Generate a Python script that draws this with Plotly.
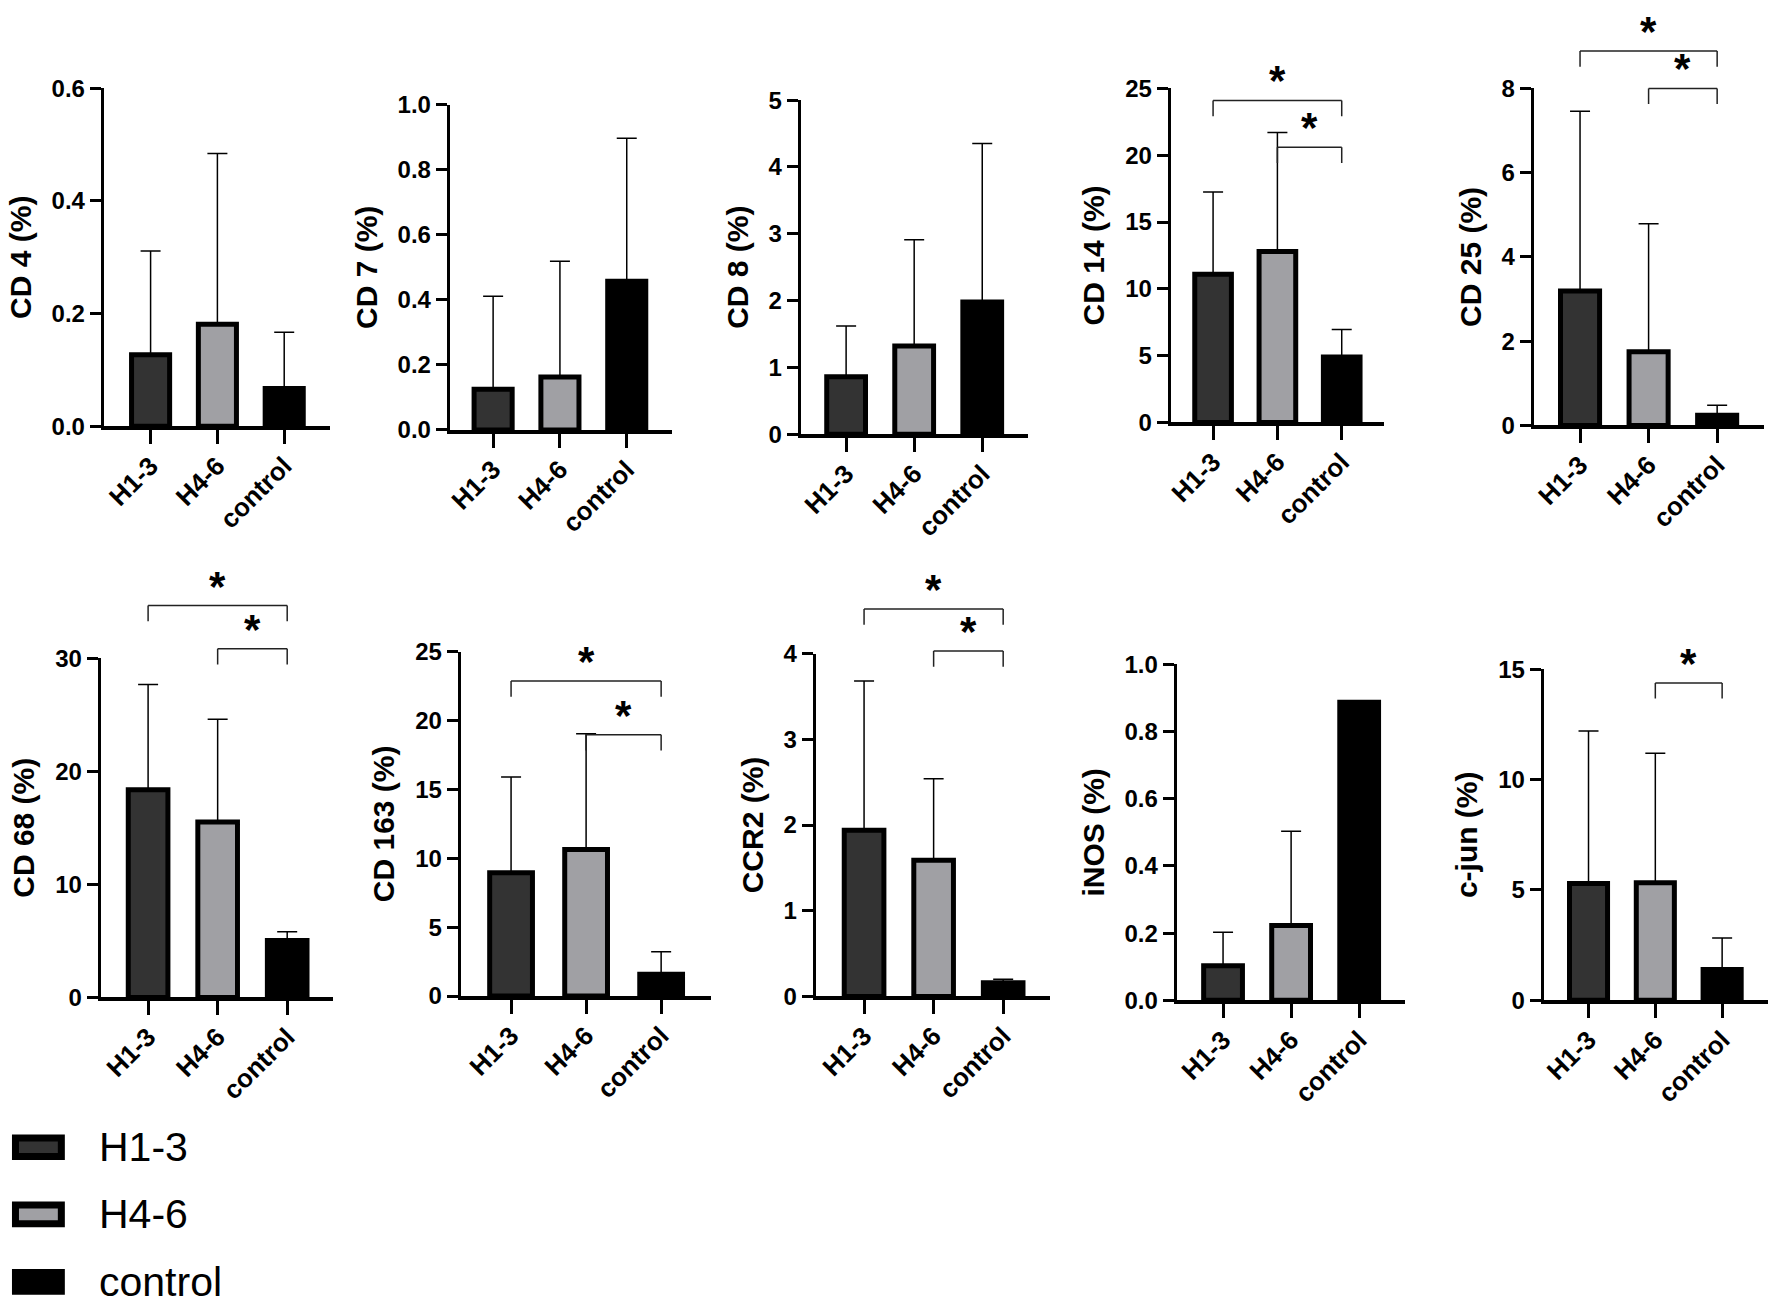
import plotly.graph_objects as go

W, H = 1771, 1315

# ---------------- data ----------------
GROUPS = ["H1-3", "H4-6", "control"]
TITLES = ["CD 4 (%)", "CD 7 (%)", "CD 8 (%)", "CD 14 (%)", "CD 25 (%)",
          "CD 68 (%)", "CD 163 (%)", "CCR2 (%)", "iNOS (%)", "c-jun (%)"]

MEAN_H13 = [0.127, 0.125, 0.86, 11.1, 3.19, 18.35, 8.95, 1.94, 0.103, 5.29]
MEAN_H46 = [0.181, 0.163, 1.32, 12.8, 1.75, 15.5, 10.64, 1.59, 0.223, 5.33]
MEAN_CTRL = [0.067, 0.457, 1.98, 4.9, 0.24, 5.03, 1.58, 0.16, 0.887, 1.40]

SD_H13 = [0.184, 0.286, 0.76, 6.14, 4.27, 9.32, 6.95, 1.74, 0.10, 6.91]
SD_H46 = [0.303, 0.356, 1.59, 8.9, 3.04, 9.1, 8.39, 0.95, 0.28, 5.87]
SD_CTRL = [0.100, 0.440, 2.37, 2.05, 0.236, 0.77, 1.63, 0.04, 0.0, 1.42]

Y_MAX = [0.6, 1.0, 5, 25, 8, 30, 25, 4, 1.0, 15]
Y_DTICK = [0.2, 0.2, 1, 5, 2, 10, 5, 1, 0.2, 5]
Y_FMT = [".1f", ".1f", "d", "d", "d", "d", "d", "d", ".1f", "d"]

# significance brackets: panel, from group, to group, bracket level (data units)
SIG_PANEL = [3, 3, 4, 4, 5, 5, 6, 6, 7, 7, 9]
SIG_FROM = [0, 1, 0, 1, 0, 1, 0, 1, 0, 1, 1]
SIG_TO = [2, 2, 2, 2, 2, 2, 2, 2, 2, 2, 2]
SIG_Y = [24.1, 20.6, 8.89, 8.0, 34.64, 30.83, 22.87, 18.96, 4.52, 4.03, 14.38]
SIG_TEXT = ["*"] * 11

# ---------------- layout (pixel geometry) ----------------
AX_LEFT = [99, 446, 798, 1169, 1533, 96, 457, 813, 1175, 1543]
AX_RIGHT = [326, 669, 1026, 1383, 1764, 329, 708, 1048, 1404, 1768]
C_FIRST = [146, 489.5, 843.5, 1211.5, 1579.5, 143.5, 507.5, 861.5, 1221.5, 1588]
C_LAST = [280, 623.5, 980, 1340.5, 1717, 283, 658, 1001, 1358, 1722]
ZERO_PX = [421, 424.7, 429, 417, 420, 1004, 1002.6, 1003, 1007, 1007]
TOP_PX = [75.7, 92.6, 88, 76, 76, 657.6, 651, 653, 664, 669]

FILL = ["#333333", "#a0a0a4", "#000000"]
FONT = "Liberation Sans, Arial, sans-serif"
BAR_W = 0.57
TIP_PX = 16

fig = go.Figure()
layout = dict(
    width=W, height=H,
    margin=dict(l=0, r=0, t=0, b=0),
    paper_bgcolor="white", plot_bgcolor="white",
    showlegend=False,
    font=dict(family=FONT, color="black"),
)
shapes = []
annotations = []

xs = list(range(len(GROUPS)))
for i in range(10):
    n = "" if i == 0 else str(i + 1)
    xa, ya = "x" + n, "y" + n
    means = [MEAN_H13[i], MEAN_H46[i], MEAN_CTRL[i]]
    sds = [SD_H13[i], SD_H46[i], SD_CTRL[i]]
    fig.add_trace(go.Bar(
        x=xs, y=means, xaxis=xa, yaxis=ya, width=BAR_W,
        marker=dict(color=FILL, line=dict(color="black", width=5)),
        error_y=dict(type="data", array=sds, arrayminus=[0, 0, 0], symmetric=False,
                     color="black", thickness=1.5, width=10),
    ))
    s = (C_LAST[i] - C_FIRST[i]) / 2.0
    r0 = -(C_FIRST[i] - AX_LEFT[i]) / s
    r1 = 2 + (AX_RIGHT[i] - C_LAST[i]) / s
    layout["xaxis" + n] = dict(
        domain=[AX_LEFT[i] / W, AX_RIGHT[i] / W], anchor=ya,
        range=[r0, r1], tickmode="array", tickvals=xs, ticktext=GROUPS,
        showline=True, linecolor="black", linewidth=4,
        ticks="outside", ticklen=14, tickwidth=3, tickcolor="black",
        tickangle=-45, ticklabelstandoff=-4,
        tickfont=dict(size=26, weight="bold", family=FONT, color="black"),
        showgrid=False, zeroline=False, fixedrange=True,
    )
    layout["yaxis" + n] = dict(
        domain=[1 - ZERO_PX[i] / H, 1 - TOP_PX[i] / H], anchor=xa,
        range=[0, Y_MAX[i]], tickmode="linear", tick0=0, dtick=Y_DTICK[i],
        tickformat=Y_FMT[i],
        showline=True, linecolor="black", linewidth=3,
        ticks="outside", ticklen=11, tickwidth=3, tickcolor="black",
        tickfont=dict(size=24, weight="bold", family=FONT, color="black"),
        title=dict(text=TITLES[i], standoff=12,
                   font=dict(size=30, weight="bold", family=FONT, color="black")),
        showgrid=False, zeroline=False, fixedrange=True,
    )

# significance brackets
for k in range(len(SIG_PANEL)):
    i = SIG_PANEL[k]
    n = "" if i == 0 else str(i + 1)
    xa, yd = "x" + n, "y" + n + " domain"
    lvl = SIG_Y[k] / Y_MAX[i]
    tip = TIP_PX / (ZERO_PX[i] - TOP_PX[i])
    x0, x1 = SIG_FROM[k], SIG_TO[k]
    line = dict(color="#222222", width=1.5)
    shapes.append(dict(type="line", xref=xa, yref=yd, x0=x0, x1=x1, y0=lvl, y1=lvl, line=line))
    shapes.append(dict(type="line", xref=xa, yref=yd, x0=x0, x1=x0, y0=lvl, y1=lvl - tip, line=line))
    shapes.append(dict(type="line", xref=xa, yref=yd, x0=x1, x1=x1, y0=lvl, y1=lvl - tip, line=line))
    annotations.append(dict(xref=xa, yref=yd, x=(x0 + x1) / 2, y=lvl, text=SIG_TEXT[k],
                            showarrow=False, xanchor="center", yanchor="bottom", yshift=-6,
                            font=dict(size=42, weight="bold", family=FONT, color="black")))

# legend (custom, bottom-left)
LEG_Y = [1157, 1225.5, 1294.5]
for g in range(len(GROUPS)):
    yc = LEG_Y[g]
    shapes.append(dict(type="rect", xref="paper", yref="paper",
                       x0=10.5 / W, x1=56.5 / W,
                       y0=1 - (yc + 9.5) / H, y1=1 - (yc - 9.5) / H,
                       fillcolor=FILL[g], line=dict(color="black", width=7)))
    annotations.append(dict(xref="paper", yref="paper", x=92 / W, y=1 - yc / H,
                            text=GROUPS[g], showarrow=False, xanchor="left", yanchor="middle",
                            font=dict(size=41, family=FONT, color="black")))

layout["shapes"] = shapes
layout["annotations"] = annotations
fig.update_layout(**layout)

POST = (
    "document.documentElement.style.margin='0';"
    "document.documentElement.style.padding='0';"
    "document.documentElement.style.overflow='hidden';"
    "document.body.style.margin='0';"
    "document.body.style.padding='0';"
    "document.body.style.overflow='hidden';"
    "var d=document.getElementById('{plot_id}');"
    "d.style.position='absolute';d.style.left='0px';d.style.top='0px';"
)
fig.write_html("out.html", config={"displayModeBar": False}, post_script=POST)
